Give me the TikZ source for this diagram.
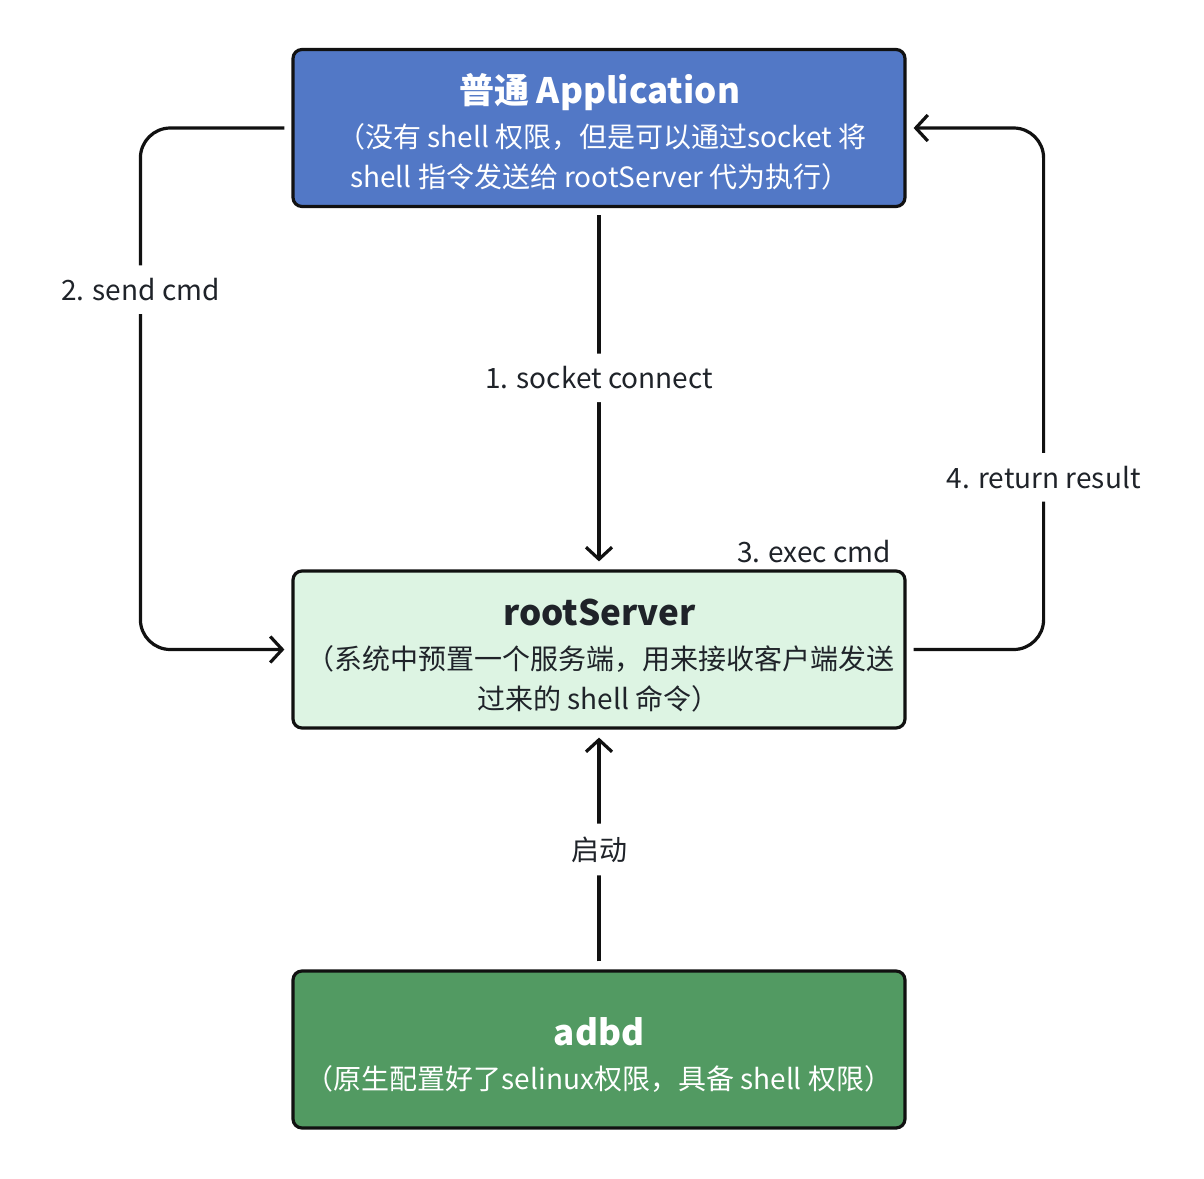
\documentclass[tikz,border=0pt]{standalone}
\usepackage{fontspec}
\setmainfont{Noto Sans CJK SC}
\usetikzlibrary{arrows.meta}
\definecolor{appblue}{HTML}{5278C6}
\definecolor{rslight}{HTML}{DDF4E3}
\definecolor{adbdgreen}{HTML}{529A62}
\definecolor{labelgray}{HTML}{1F2329}
\definecolor{edge}{HTML}{111111}
\begin{document}
\begin{tikzpicture}[x=1pt,y=-1pt,
  box/.style={draw=edge, line width=3.2pt, rounded corners=9pt, minimum width=612pt, minimum height=157pt, inner sep=0pt},
  ttl/.style={font=\fontsize{35}{40}\selectfont\bfseries, anchor=base, inner sep=0pt},
  sub/.style={font=\fontsize{28}{32}\selectfont, anchor=base, inner sep=0pt},
  lbl/.style={font=\fontsize{28}{32}\selectfont, text=labelgray, fill=white, inner xsep=3pt, inner ysep=13pt},
  conn/.style={draw=edge, line width=3.2pt, rounded corners=30pt},
  tip/.style={-{Straight Barb[length=12pt,width=26pt,line width=3.2pt]}}]
\useasboundingbox (0,0) rectangle (1204,1178);
\fill[white] (0,0) rectangle (1204,1178);

\node[box, fill=appblue] (app) at (599,128) {};
\node[box, fill=rslight] (rs) at (599,649.5) {};
\node[box, fill=adbdgreen] (adbd) at (599,1049.5) {};

\node[ttl, text=white] (appt) at (599.5,103) {普通 Application};
\node[sub, text=white] (apps1) at (602,147) {（没有 shell 权限，但是可以通过socket 将};
\node[sub, text=white] (apps2) at (600,187) {shell 指令发送给 rootServer 代为执行）};

\node[ttl, text=labelgray] (rst) at (599.5,625) {rootServer};
\node[sub, text=labelgray] (rss1) at (600,669) {（系统中预置一个服务端，用来接收客户端发送};
\node[sub, text=labelgray] (rss2) at (598.5,709) {过来的 shell 命令）};

\node[ttl, text=white] (adbdt) at (599,1045) {adbd};
\node[sub, text=white] (adbds) at (599,1089) {（原生配置好了selinux权限，具备 shell 权限）};

\draw[conn, tip] ([yshift=-7pt]app.south) -- node[lbl, pos=0.47] (l1) {1. socket connect} ([yshift=8pt]rs.north);
\draw[conn, tip] ([xshift=-7pt]app.west) -- ++(-144,0) |- node[lbl, pos=0.155] (l2) {2. send cmd} ([xshift=-7pt]rs.west);
\draw[conn, tip] ([xshift=7pt]rs.east) -- ++(130,0) |- node[lbl, pos=0.165] (l4) {4. return result} ([xshift=7pt]app.east);
\draw[conn, tip] ([yshift=8pt]adbd.north) -- node[lbl] (l5) {启动} ([yshift=-8pt]rs.south);
\node[font=\fontsize{28}{32}\selectfont, text=labelgray] (l3) at (814,552) {3. exec cmd};
\end{tikzpicture}
\end{document}
